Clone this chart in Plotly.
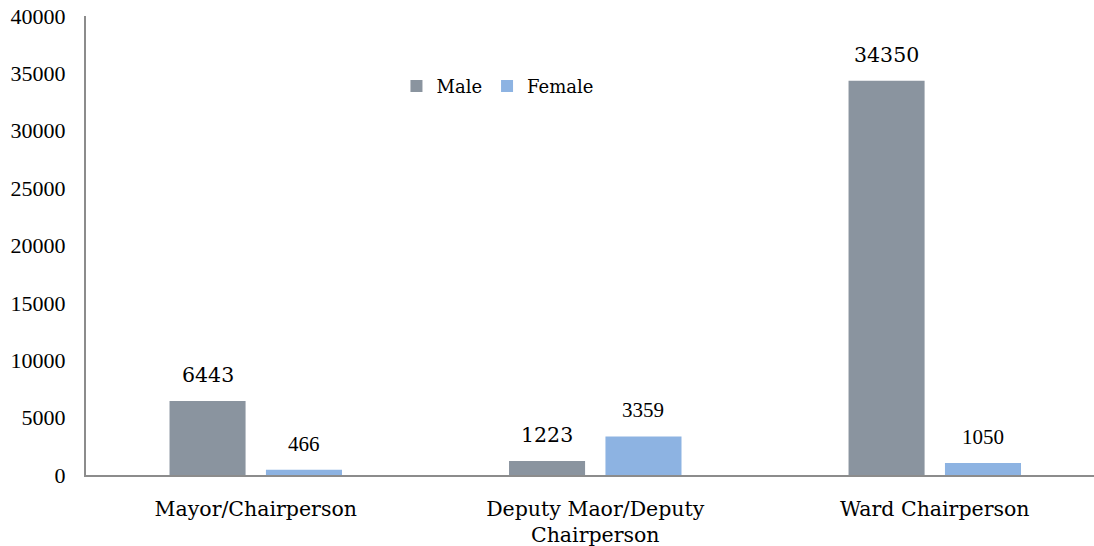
import plotly.graph_objects as go

categories = ["Mayor/Chairperson", "Deputy Maor/Deputy<br>Chairperson", "Ward Chairperson"]
male = [6443, 1223, 34350]
female = [466, 3359, 1050]
y_ticks = [0, 5000, 10000, 15000, 20000, 25000, 30000, 35000, 40000]
y_tick_text = ["0", "5000", "10000", "15000", "20000", "25000", "30000", "35000", "40000"]

male_color = "#8A949F"
female_color = "#8DB3E2"
serif = "Liberation Serif"
cambria = "DejaVu Serif"

x_idx = list(range(len(categories)))

fig = go.Figure()
fig.add_trace(go.Bar(x=x_idx, y=male, name="Male", marker=dict(color=male_color, line=dict(width=0)),
                     width=0.224, offset=-0.254))
fig.add_trace(go.Bar(x=x_idx, y=female, name="Female", marker=dict(color=female_color, line=dict(width=0)),
                     width=0.224, offset=0.030))

for i, v in enumerate(male):
    fig.add_annotation(x=i - 0.142, y=v, text=str(v), showarrow=False, yanchor="bottom", yshift=12,
                       font=dict(family=cambria, size=20.5, color="black"))
for i, v in enumerate(female):
    fig.add_annotation(x=i + 0.142, y=v, text=str(v), showarrow=False, yanchor="bottom", yshift=12,
                       font=dict(family=serif, size=21, color="black"))

fig.update_layout(
    width=1094, height=546,
    margin=dict(l=86, r=0, t=16, b=71),
    plot_bgcolor="white", paper_bgcolor="white",
    showlegend=True,
    legend=dict(orientation="h", x=0.308, y=0.847, xanchor="left", yanchor="middle",
                font=dict(family=cambria, size=18, color="black"), traceorder="normal",
                itemwidth=30, bgcolor="rgba(0,0,0,0)"),
    xaxis=dict(tickmode="array", tickvals=x_idx, ticktext=categories, range=[-0.5, 2.469],
               showline=True, linecolor="#8C8C8C", linewidth=2, ticks="", showgrid=False,
               ticklabelstandoff=14, automargin=False,
               tickfont=dict(family=cambria, size=20.5, color="black"), zeroline=False),
    yaxis=dict(range=[0, 40000.5], tickmode="array", tickvals=y_ticks, ticktext=y_tick_text,
               showline=True, linecolor="#8C8C8C", linewidth=2, automargin=False,
               ticks="", showgrid=False, zeroline=False, ticklabelstandoff=14,
               tickfont=dict(family=serif, size=22, color="black")),
)

fig.write_html("out.html", config={"displayModeBar": False},
               post_script="document.body.style.margin='0';document.body.style.overflow='hidden';")
